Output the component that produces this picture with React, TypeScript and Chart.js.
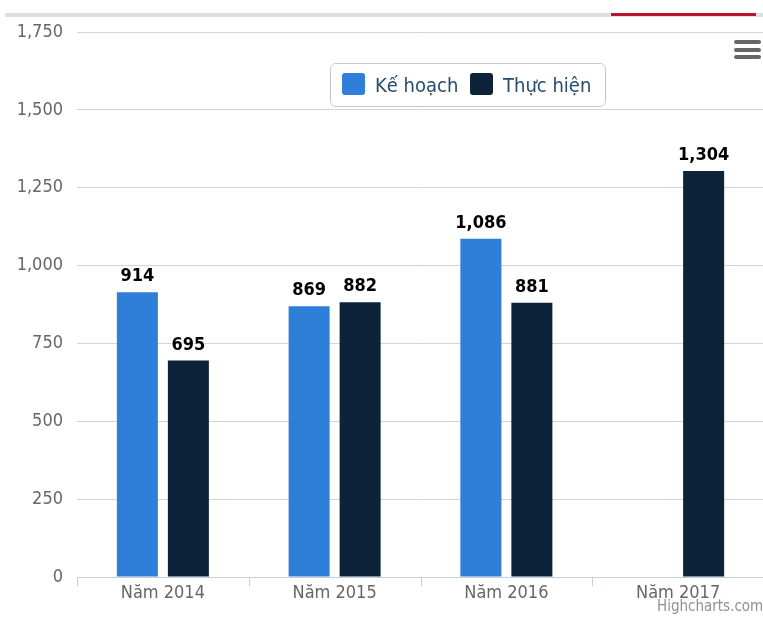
import React, { useEffect, useRef } from "react";
import { Chart, registerables } from "chart.js";

Chart.register(...registerables);

const categories = ["Năm 2014", "Năm 2015", "Năm 2016", "Năm 2017"];
const keHoach: (number | null)[] = [914, 869, 1086, null];
const thucHien: (number | null)[] = [695, 882, 881, 1304];
const seriesNames = ["Kế hoạch", "Thực hiện"];
const seriesColors = ["#2f7ed8", "#0d233a"];
const yMin = 0;
const yMax = 1750;
const yStep = 250;

const FONT = "'DejaVu Sans Condensed', 'DejaVu Sans', sans-serif";

const fmt = (v: number) => v.toLocaleString("en-US");

const dataLabelPlugin = {
  id: "dataLabels",
  afterDatasetsDraw(chart: any) {
    const ctx = chart.ctx;
    ctx.save();
    ctx.font = "bold 18px " + FONT;
    ctx.textAlign = "center";
    ctx.textBaseline = "alphabetic";
    chart.data.datasets.forEach((ds: any, i: number) => {
      const meta = chart.getDatasetMeta(i);
      meta.data.forEach((el: any, j: number) => {
        const v = ds.data[j];
        if (v === null || v === undefined) return;
        const x = el.x;
        const y = el.y - 11;
        ctx.lineJoin = "round";
        ctx.lineWidth = 2;
        ctx.strokeStyle = "rgba(255,255,255,0.9)";
        ctx.strokeText(fmt(v), x, y);
        ctx.fillStyle = "#000";
        ctx.fillText(fmt(v), x, y);
      });
    });
    ctx.restore();
  },
};

const xTickPlugin = {
  id: "xTicks",
  afterDraw(chart: any) {
    const ctx = chart.ctx;
    const area = chart.chartArea;
    const n = categories.length;
    const w = (area.right - area.left) / n;
    ctx.save();
    ctx.strokeStyle = "#C0D0E0";
    ctx.lineWidth = 1;
    for (let i = 0; i <= n; i++) {
      const x = Math.round(area.left + i * w) + 0.5;
      ctx.beginPath();
      ctx.moveTo(x, area.bottom);
      ctx.lineTo(x, area.bottom + 9);
      ctx.stroke();
    }
    ctx.restore();
  },
};

export default function App() {
  const canvasRef = useRef<HTMLCanvasElement | null>(null);

  useEffect(() => {
    if (!canvasRef.current) return;
    const chart = new Chart(canvasRef.current, {
      type: "bar",
      data: {
        labels: categories,
        datasets: [
          {
            label: seriesNames[0],
            data: keHoach,
            backgroundColor: seriesColors[0],
            categoryPercentage: 0.594,
            barPercentage: 0.804,
          },
          {
            label: seriesNames[1],
            data: thucHien,
            backgroundColor: seriesColors[1],
            categoryPercentage: 0.594,
            barPercentage: 0.804,
          },
        ],
      },
      options: {
        animation: false,
        responsive: false,
        devicePixelRatio: 1,
        layout: { padding: { top: 32, right: 36, left: 0, bottom: 0 } },
        plugins: {
          legend: { display: false },
          tooltip: { enabled: false },
        },
        scales: {
          x: {
            grid: { display: true, drawOnChartArea: false, drawTicks: false },
            border: { color: "#C0D0E0", width: 1 },
            ticks: {
              color: "#666",
              font: { family: FONT, size: 18 },
              padding: 6,
              maxRotation: 0,
            },
            afterFit: (s: any) => {
              s.height = 44;
            },
          },
          y: {
            min: yMin,
            max: yMax,
            grid: { color: "#D4D4D4", drawTicks: false },
            border: { display: false },
            ticks: {
              stepSize: yStep,
              color: "#666",
              font: { family: FONT, size: 18 },
              padding: 14,
              callback: (v: any) => fmt(Number(v)),
            },
            afterFit: (s: any) => {
              s.width = 77;
            },
          },
        },
      },
      plugins: [dataLabelPlugin, xTickPlugin],
    });
    return () => chart.destroy();
  }, []);

  const textFont = FONT;

  return (
    <div
      style={{
        position: "fixed",
        left: 0,
        top: 0,
        width: 763,
        height: 621,
        overflow: "hidden",
        background: "#fff",
      }}
    >
      <canvas
        ref={canvasRef}
        width={800}
        height={621}
        style={{ position: "absolute", left: 0, top: 0, width: 800, height: 621 }}
      />
      <div style={{ position: "absolute", left: 5, top: 13, width: 758, height: 4, background: "#dedede" }} />
      <div style={{ position: "absolute", left: 611, top: 13, width: 145, height: 3, background: "#b5172b" }} />
      {[40, 48, 55].map((t) => (
        <div
          key={t}
          style={{
            position: "absolute",
            left: 734,
            top: t,
            width: 27,
            height: 4,
            borderRadius: 2,
            background: "#666",
          }}
        />
      ))}
      <div
        style={{
          position: "absolute",
          left: 330,
          top: 63,
          width: 276,
          height: 44,
          boxSizing: "border-box",
          border: "1px solid #c8c8c8",
          borderRadius: 6,
          background: "#fff",
          fontFamily: textFont,
          fontSize: 20,
          color: "#274b6d",
        }}
      >
        <div style={{ position: "absolute", left: 11, top: 9, width: 23, height: 22, borderRadius: 3, background: seriesColors[0] }} />
        <div style={{ position: "absolute", left: 44, top: 0, lineHeight: "42px", whiteSpace: "nowrap" }}>{seriesNames[0]}</div>
        <div style={{ position: "absolute", left: 139, top: 9, width: 23, height: 22, borderRadius: 3, background: seriesColors[1] }} />
        <div style={{ position: "absolute", left: 172, top: 0, lineHeight: "42px", whiteSpace: "nowrap" }}>{seriesNames[1]}</div>
      </div>
      <div
        style={{
          position: "absolute",
          left: 657,
          top: 597,
          fontFamily: textFont,
          fontSize: 15,
          color: "#909090",
          whiteSpace: "nowrap",
        }}
      >
        Highcharts.com
      </div>
    </div>
  );
}
